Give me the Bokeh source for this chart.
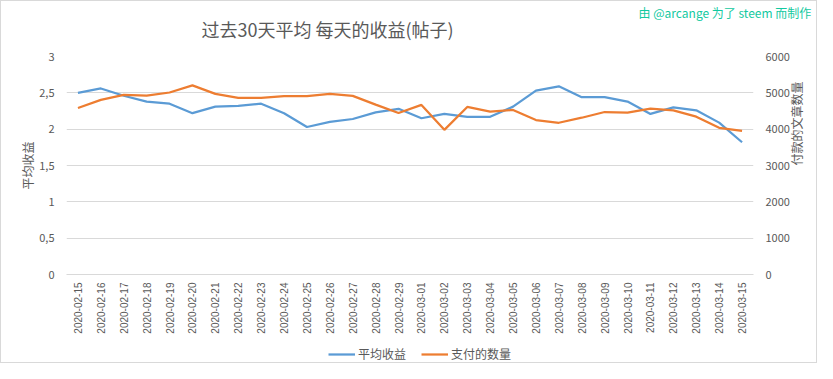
import math
from bokeh.plotting import figure
from bokeh.layouts import column
from bokeh.models import (ColumnDataSource, FactorRange, Range1d, LinearAxis, Title, Label,
                          Legend, LegendItem, FixedTicker, CustomJSTickFormatter)
from bokeh.embed import file_html
from bokeh.resources import INLINE

dates = ["2020-02-15", "2020-02-16", "2020-02-17", "2020-02-18", "2020-02-19", "2020-02-20",
         "2020-02-21", "2020-02-22", "2020-02-23", "2020-02-24", "2020-02-25", "2020-02-26",
         "2020-02-27", "2020-02-28", "2020-02-29", "2020-03-01", "2020-03-02", "2020-03-03",
         "2020-03-04", "2020-03-05", "2020-03-06", "2020-03-07", "2020-03-08", "2020-03-09",
         "2020-03-10", "2020-03-11", "2020-03-12", "2020-03-13", "2020-03-14", "2020-03-15"]
avg_payout = [2.50, 2.56, 2.46, 2.38, 2.35, 2.22, 2.31, 2.32, 2.35, 2.22, 2.03, 2.10,
              2.14, 2.23, 2.28, 2.15, 2.21, 2.17, 2.17, 2.31, 2.53, 2.59, 2.44, 2.44,
              2.38, 2.21, 2.30, 2.26, 2.09, 1.82]
paid_posts = [4583, 4806, 4944, 4926, 5009, 5204, 4972, 4861, 4861, 4907, 4907, 4972,
              4917, 4676, 4444, 4667, 3981, 4611, 4481, 4528, 4250, 4176, 4315, 4472,
              4454, 4565, 4519, 4343, 4037, 3954]
left_ticks = [0, 0.5, 1, 1.5, 2, 2.5, 3]
right_ticks = [0, 1000, 2000, 3000, 4000, 5000, 6000]

title_text = "过去30天平均 每天的收益(帖子)"
credit_text = "由 @arcange 为了 steem 而制作"
left_label = "平均收益"
right_label = "付款的文章数量"
series_names = ["平均收益", "支付的数量"]

CJK = "Noto Sans CJK SC"
GRAY = "#595959"
BLUE = "#5b9bd5"
ORANGE = "#ed7d31"
GRID = "#d9d9d9"
TEAL = "#12c9a0"

src = ColumnDataSource(dict(d=dates, a=avg_payout, n=paid_posts))


def blank(fig):
    fig.axis.visible = False
    fig.grid.visible = False
    fig.outline_line_color = None


# ---- header strip: credit (title panel) + chart title (label) ----
ts = figure(width=815, height=43, x_range=Range1d(0, 1), y_range=Range1d(0, 1),
            output_backend="svg", toolbar_location=None, title=None, min_border=0)
blank(ts)
ts.add_layout(Title(text=credit_text, align="left", offset=572, standoff=0,
                    text_font=CJK, text_font_size="12px", text_font_style="normal",
                    text_color=TEAL), "above")
ts.add_layout(Label(x=0, y=0, x_offset=261, y_offset=16, text=title_text,
                    text_align="center", text_baseline="middle", text_font=CJK,
                    text_font_size="18px", text_color=GRAY))

# ---- main chart ----
p = figure(width=815, height=294, x_range=FactorRange(*dates), y_range=Range1d(0, 3),
           output_backend="svg", toolbar_location=None, title=None,
           min_border_left=65, min_border_right=58, min_border_top=12, min_border_bottom=64)
p.outline_line_color = None
p.extra_y_ranges = {"right": Range1d(0, 6000)}
p.x_range.range_padding = 0

l1 = p.line("d", "a", source=src, line_color=BLUE, line_width=2.25)
l2 = p.line("d", "n", source=src, line_color=ORANGE, line_width=2.25, y_range_name="right")

p.xgrid.visible = False
p.ygrid.grid_line_color = GRID
p.ygrid.ticker = FixedTicker(ticks=left_ticks)

ya = p.yaxis[0]
ya.ticker = FixedTicker(ticks=left_ticks)
ya.formatter = CustomJSTickFormatter(code="return String(tick).replace('.', ',');")
ya.axis_line_color = None
ya.major_tick_line_color = None
ya.minor_tick_line_color = None
ya.major_tick_out = 0
ya.minor_tick_out = 0
ya.major_label_text_font = CJK
ya.major_label_text_font_size = "11px"
ya.major_label_text_color = GRAY
ya.major_label_standoff = 12
ya.axis_label = left_label
ya.axis_label_text_font = CJK
ya.axis_label_text_font_size = "12px"
ya.axis_label_text_font_style = "normal"
ya.axis_label_text_color = GRAY
ya.axis_label_standoff = 0

ra = LinearAxis(y_range_name="right", ticker=FixedTicker(ticks=right_ticks))
ra.axis_line_color = None
ra.major_tick_line_color = None
ra.minor_tick_line_color = None
ra.major_tick_out = 0
ra.minor_tick_out = 0
ra.major_label_text_font = CJK
ra.major_label_text_font_size = "11px"
ra.major_label_text_color = GRAY
ra.major_label_standoff = 12
ra.axis_label = right_label
ra.axis_label_text_font = CJK
ra.axis_label_text_font_size = "12px"
ra.axis_label_text_font_style = "normal"
ra.axis_label_text_color = GRAY
ra.axis_label_standoff = 4
try:
    ra.axis_label_orientation = math.pi / 2
except Exception:
    pass
p.add_layout(ra, "right")

xa = p.xaxis[0]
xa.axis_line_color = GRID
xa.major_tick_line_color = None
xa.minor_tick_line_color = None
xa.major_tick_out = 0
xa.minor_tick_out = 0
xa.major_label_orientation = math.pi / 2
xa.major_label_text_font = "Liberation Sans"
xa.major_label_text_font_size = "10px"
xa.major_label_text_color = GRAY
xa.major_label_standoff = 8

# ---- legend strip ----
lf = figure(width=815, height=24, x_range=Range1d(0, 1), y_range=Range1d(0, 1),
            output_backend="svg", toolbar_location=None, min_border=0)
blank(lf)
# legend proxies: same data, lying outside this strip's visible ranges
g1 = lf.line(x="a", y="n", source=src, line_color=BLUE, line_width=2.25)
g2 = lf.line(x="a", y="n", source=src, line_color=ORANGE, line_width=2.25)
legend = Legend(items=[LegendItem(label=series_names[0], renderers=[g1]),
                       LegendItem(label=series_names[1], renderers=[g2])],
                orientation="horizontal", location=(262, 0),
                label_text_font=CJK, label_text_font_size="12px", label_text_color=GRAY,
                glyph_width=27, glyph_height=16, label_height=16, label_standoff=3,
                spacing=15, padding=0, margin=0,
                background_fill_alpha=0, border_line_color=None)
lf.add_layout(legend, "center")

layout = column(ts, p, lf, spacing=0, styles={"border": "1px solid #d9d9d9"})
open("out.html", "w").write(file_html(layout, INLINE))
